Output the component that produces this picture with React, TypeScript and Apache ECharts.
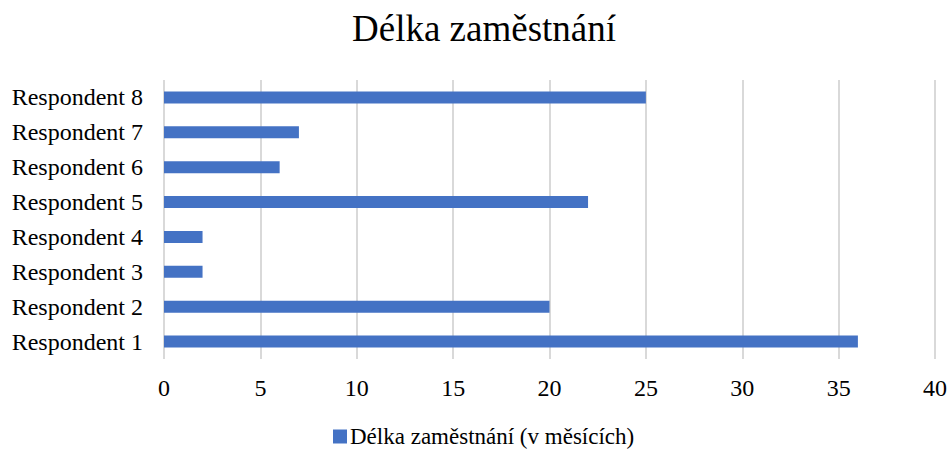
import React, { useEffect, useRef } from "react";
import * as echarts from "echarts";

const title = "Délka zaměstnání";
const seriesName = "Délka zaměstnání (v měsících)";
const categories = [
  "Respondent 1",
  "Respondent 2",
  "Respondent 3",
  "Respondent 4",
  "Respondent 5",
  "Respondent 6",
  "Respondent 7",
  "Respondent 8",
];
const values = [36, 20, 2, 2, 22, 6, 7, 25];
const xMin = 0;
const xMax = 40;
const xStep = 5;

const FONT = "'Liberation Serif', 'Times New Roman', serif";

export default function App() {
  const ref = useRef<HTMLDivElement>(null);
  useEffect(() => {
    if (!ref.current) return;
    const chart = echarts.init(ref.current, null, { renderer: "svg" });
    chart.setOption({
      animation: false,
      backgroundColor: "#ffffff",
      title: {
        text: title,
        left: 347,
        top: 5,
        textStyle: { fontFamily: FONT, fontSize: 37, fontWeight: "normal", color: "#000" },
      },
      legend: {
        top: 420,
        left: 328,
        itemWidth: 14,
        itemHeight: 14,
        itemGap: 10,
        icon: "rect",
        textStyle: { fontFamily: FONT, fontSize: 23, color: "#000", padding: [0, 0, 0, -2] },
        data: [seriesName],
      },
      grid: { left: 164, right: 16, top: 80, bottom: 90, containLabel: false },
      xAxis: {
        type: "value",
        min: xMin,
        max: xMax,
        interval: xStep,
        axisLine: { show: false },
        axisTick: { show: false },
        axisLabel: { fontFamily: FONT, fontSize: 24, color: "#000", margin: 17 },
        splitLine: { show: true, lineStyle: { color: "#d9d9d9", width: 2 } },
      },
      yAxis: {
        type: "category",
        data: categories,
        axisLine: { show: false },
        axisTick: { show: false },
        axisLabel: { fontFamily: FONT, fontSize: 24, color: "#000", margin: 21 },
        splitLine: { show: false },
      },
      series: [
        {
          name: seriesName,
          type: "bar",
          data: values,
          barWidth: 12,
          itemStyle: { color: "#4472C4" },
        },
      ],
    });
    return () => chart.dispose();
  }, []);
  return (
    <div
      ref={ref}
      style={{ position: "absolute", left: 0, top: 0, width: 951, height: 449 }}
    />
  );
}
